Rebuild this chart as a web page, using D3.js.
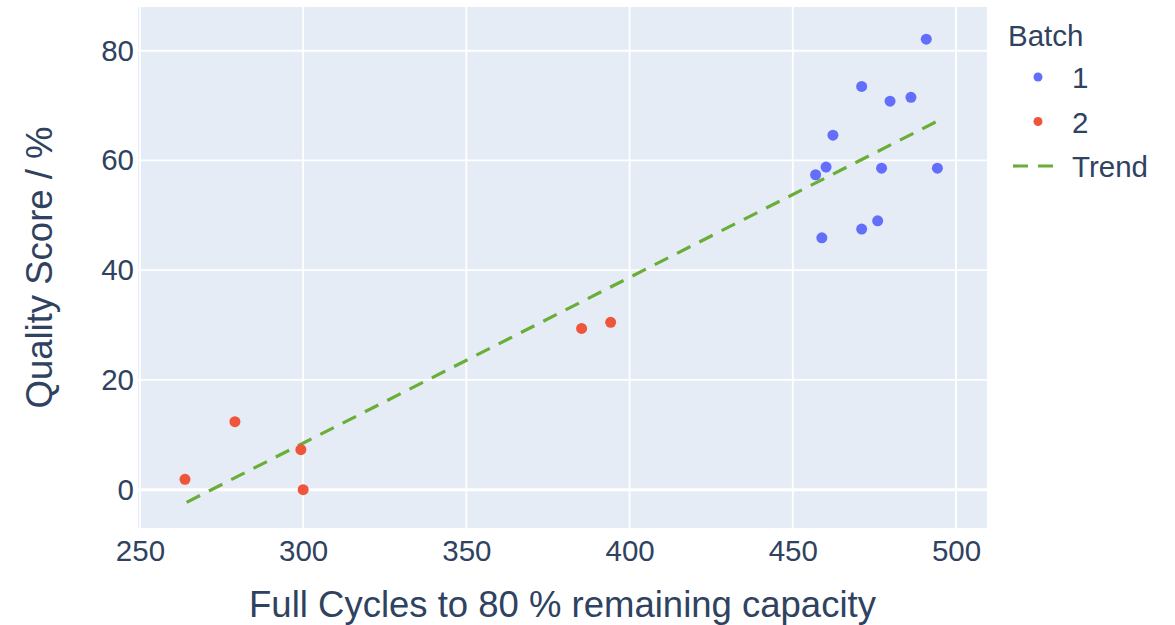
<!DOCTYPE html>
<html>
<head>
<meta charset="utf-8">
<script src="https://cdn.jsdelivr.net/npm/d3@7"></script>
<style>
  body { margin: 0; background: #fff; }
  text { font-family: Arial, "Liberation Sans", sans-serif; fill: #2f4260; }
</style>
</head>
<body>
<svg id="chart"></svg>
<script>
// batch 1 (blue)
const batch1X = [490.9, 471.1, 479.8, 486.2, 462.3, 460.2, 457.0, 477.2, 494.3, 476.0, 471.1, 458.9];
const batch1Y = [82.1, 73.5, 70.8, 71.5, 64.6, 58.8, 57.4, 58.6, 58.6, 49.0, 47.5, 45.9];
// batch 2 (red)
const batch2X = [263.8, 279.1, 299.3, 300.0, 385.3, 394.2];
const batch2Y = [1.9, 12.4, 7.3, 0.0, 29.4, 30.5];
// trend line end points
const trendX = [264.3, 494.4];
const trendY = [-2.3, 67.2];

const xTicks = [250, 300, 350, 400, 450, 500];
const yTicks = [0, 20, 40, 60, 80];
const legendItems = ['1', '2', 'Trend'];

const W = 1175, H = 625;
const margin = { top: 7, right: 188, bottom: 97, left: 138 };
const width = W - margin.left - margin.right;
const height = H - margin.top - margin.bottom;

const svg = d3.select('#chart').attr('width', W).attr('height', H);

const x = d3.scaleLinear().domain([249.4, 509.5]).range([0, width]);
const y = d3.scaleLinear().domain([-6.98, 87.97]).range([height, 0]);

const g = svg.append('g').attr('transform', `translate(${margin.left},${margin.top})`);

g.append('rect')
  .attr('width', width).attr('height', height)
  .attr('fill', '#e5ecf6');

// grid lines
g.append('g').selectAll('line.vx')
  .data(xTicks).enter().append('line')
    .attr('x1', d => x(d)).attr('x2', d => x(d))
    .attr('y1', 0).attr('y2', height)
    .attr('stroke', '#fff').attr('stroke-width', 1.8);

g.append('g').selectAll('line.hy')
  .data(yTicks).enter().append('line')
    .attr('x1', 0).attr('x2', width)
    .attr('y1', d => y(d)).attr('y2', d => y(d))
    .attr('stroke', '#fff').attr('stroke-width', d => d === 0 ? 3 : 1.8);

// axes (labels only, plotly style)
const xAxis = g.append('g')
  .attr('transform', `translate(0,${height})`)
  .call(d3.axisBottom(x).tickValues(xTicks).tickSize(0).tickPadding(12));
const yAxis = g.append('g')
  .call(d3.axisLeft(y).tickValues(yTicks).tickSize(0).tickPadding(4));
[xAxis, yAxis].forEach(a => {
  a.select('.domain').remove();
  a.selectAll('text')
    .style('font-family', 'Arial, "Liberation Sans", sans-serif')
    .style('font-size', '29.5px').attr('fill', '#2f4260');
});

// trend
const line = d3.line().x(d => x(d[0])).y(d => y(d[1]));
g.append('path')
  .datum(trendX.map((v, i) => [v, trendY[i]]))
  .attr('d', line)
  .attr('fill', 'none')
  .attr('stroke', '#6aae38')
  .attr('stroke-width', 3.2)
  .attr('stroke-dasharray', '15,10');

// points
g.append('g').selectAll('circle')
  .data(batch1X.map((v, i) => [v, batch1Y[i]])).enter().append('circle')
    .attr('cx', d => x(d[0])).attr('cy', d => y(d[1])).attr('r', 5.5)
    .attr('fill', '#636efa');

g.append('g').selectAll('circle')
  .data(batch2X.map((v, i) => [v, batch2Y[i]])).enter().append('circle')
    .attr('cx', d => x(d[0])).attr('cy', d => y(d[1])).attr('r', 5.5)
    .attr('fill', '#ef553b');

// axis titles
svg.append('text')
  .attr('x', margin.left + width / 2).attr('y', 617)
  .attr('text-anchor', 'middle')
  .style('font-size', '36.5px')
  .text('Full Cycles to 80 % remaining capacity');

svg.append('text')
  .attr('transform', `translate(52,${margin.top + height / 2}) rotate(-90)`)
  .attr('text-anchor', 'middle')
  .style('font-size', '36.5px')
  .text('Quality Score / %');

// legend
const leg = svg.append('g').attr('transform', 'translate(1008,0)');
leg.append('text').attr('x', 0).attr('y', 46).style('font-size', '29.5px').text('Batch');

const item = leg.selectAll('g.item')
  .data(legendItems).enter().append('g')
    .attr('transform', (d, i) => `translate(0,${77 + i * 44.5})`);

item.filter(d => d !== 'Trend').append('circle')
  .attr('cx', 30).attr('cy', 0).attr('r', 4.5)
  .attr('fill', (d, i) => i === 0 ? '#636efa' : '#ef553b');

item.filter(d => d === 'Trend').append('line')
  .attr('x1', 5).attr('x2', 50).attr('y1', 0).attr('y2', 0)
  .attr('stroke', '#6aae38').attr('stroke-width', 3.2)
  .attr('stroke-dasharray', '15,10');

item.append('text')
  .attr('x', 64).attr('y', 11)
  .style('font-size', '29.5px')
  .text(d => d);
</script>
</body>
</html>
